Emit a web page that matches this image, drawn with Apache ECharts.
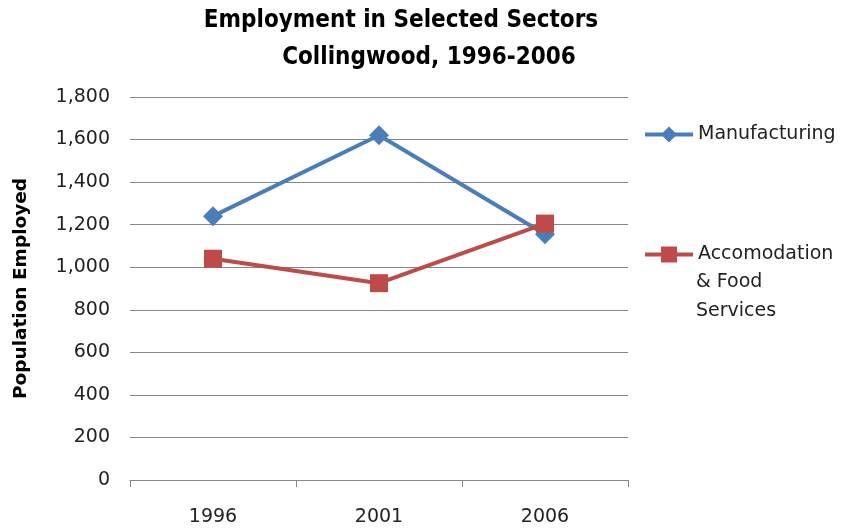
<!DOCTYPE html>
<html>
<head>
<meta charset="utf-8">
<script src="https://cdn.jsdelivr.net/npm/echarts@6/dist/echarts.min.js"></script>
<style>html,body{margin:0;padding:0;background:#fff;}#c{width:843px;height:529px;}</style>
</head>
<body>
<div id="c"></div>
<script>
const categories = ['1996', '2001', '2006'];
const manufacturing = [1240, 1620, 1155];
const accommodation = [1040, 925, 1205];
const yTicks = { min: 0, max: 1800, interval: 200 };
const titleLines = ['Employment in Selected Sectors', 'Collingwood, 1996-2006'];
const seriesNames = ['Manufacturing', 'Accomodation'];
const legendExtra = '& Food\nServices';
const yAxisName = 'Population Employed';

const FONT = 'DejaVu Sans';
const TFONT = '"DejaVu Sans Condensed", "Liberation Sans Narrow", "DejaVu Sans"';
const chart = echarts.init(document.getElementById('c'), null, { renderer: 'canvas' });
chart.setOption({
  animation: false,
  backgroundColor: '#fff',
  title: [
    { text: titleLines[0], left: 401, top: 9, textAlign: 'center', padding: 0,
      textStyle: { fontFamily: TFONT, fontWeight: 'bold', fontSize: 24, color: '#000' } },
    { text: titleLines[1], left: 429, top: 46, textAlign: 'center', padding: 0,
      textStyle: { fontFamily: TFONT, fontWeight: 'bold', fontSize: 24, color: '#000' } }
  ],
  legend: [
    { data: [seriesNames[0]], orient: 'vertical', left: 643, top: 125, padding: 0,
      itemWidth: 48, itemHeight: 20, itemGap: 6,
      lineStyle: { width: 4 },
      textStyle: { fontFamily: FONT, fontSize: 19, color: '#222' } },
    { data: [seriesNames[1]], orient: 'vertical', left: 643, top: 245, padding: 0,
      itemWidth: 48, itemHeight: 20, itemGap: 6,
      lineStyle: { width: 4 },
      textStyle: { fontFamily: FONT, fontSize: 19, color: '#222' } }
  ],
  graphic: [
    { type: 'text', left: 696, top: 268,
      style: { text: legendExtra, fontFamily: FONT, fontSize: 19, fill: '#222', lineHeight: 29 } }
  ],
  grid: { left: 130, right: 215, top: 97, bottom: 49, containLabel: false },
  xAxis: {
    type: 'category', data: categories, boundaryGap: true,
    axisLine: { show: true, lineStyle: { color: '#868686', width: 1 } },
    axisTick: { show: true, length: 7, lineStyle: { color: '#868686' } },
    axisLabel: { margin: 28, fontFamily: FONT, fontSize: 19, color: '#222' }
  },
  yAxis: {
    type: 'value', min: yTicks.min, max: yTicks.max, interval: yTicks.interval,
    name: yAxisName, nameLocation: 'middle', nameGap: 99, nameRotate: 90,
    nameTextStyle: { fontFamily: FONT, fontWeight: 'bold', fontSize: 18.5, color: '#000' },
    axisLine: { show: false }, axisTick: { show: false },
    splitLine: { show: true, lineStyle: { color: '#868686', width: 1 } },
    axisLabel: { margin: 20, fontFamily: FONT, fontSize: 19, color: '#222',
      formatter: v => v.toLocaleString('en-US') }
  },
  series: [
    { name: seriesNames[0], type: 'line', data: manufacturing,
      symbol: 'diamond', symbolSize: 20,
      lineStyle: { color: '#4A7EBB', width: 4 }, itemStyle: { color: '#4A7EBB' } },
    { name: seriesNames[1], type: 'line', data: accommodation,
      symbol: 'rect', symbolSize: 18,
      lineStyle: { color: '#BE4B48', width: 4 }, itemStyle: { color: '#BE4B48' } }
  ]
});
</script>
</body>
</html>
